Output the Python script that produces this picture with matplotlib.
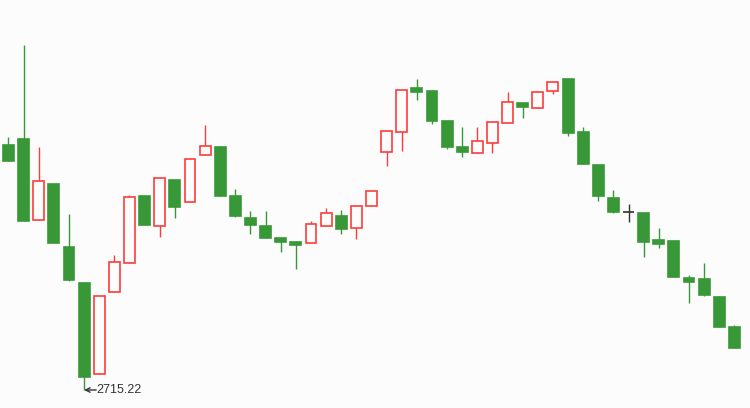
import numpy as np
import matplotlib
matplotlib.use("Agg")
import matplotlib.pyplot as plt

# daily OHLC values
opens = [2960.2, 2966.2, 2884.9, 2921.2, 2858.2, 2822.2, 2730.9, 2812.9, 2841.9, 2909.2,
         2878.9, 2925.2, 2902.9, 2949.9, 2958.2, 2909.2, 2887.2, 2879.2, 2867.2, 2863.2,
         2861.9, 2878.9, 2889.2, 2876.9, 2898.9, 2952.9, 2972.9, 3017.2, 3014.2, 2984.2,
         2958.2, 2951.9, 2961.9, 2981.9, 3002.2, 2996.9, 3013.9, 3026.2, 2973.2, 2940.2,
         2907.2, 2892.9, 2892.2, 2865.2, 2864.2, 2827.2, 2826.2, 2808.2, 2778.2]
highs = [2968.2, 3060.2, 2958.2, 2921.2, 2891.2, 2822.2, 2808.9, 2850.2, 2910.5, 2909.2,
         2928.2, 2925.2, 2945.9, 2980.2, 2959.5, 2916.2, 2894.2, 2894.2, 2867.2, 2864.2,
         2884.2, 2897.2, 2895.2, 2899.2, 2914.2, 2974.2, 3014.9, 3026.2, 3015.2, 2984.2,
         2978.2, 2978.2, 2983.2, 3013.2, 3002.2, 3012.9, 3022.9, 3026.2, 2978.2, 2940.2,
         2915.2, 2901.2, 2892.2, 2877.2, 2864.2, 2830.2, 2842.2, 2809.2, 2780.2]
lows = [2944.5, 2884.5, 2884.9, 2862.5, 2824.5, 2715.22, 2730.9, 2812.9, 2841.9, 2880.5,
        2868.5, 2887.5, 2902.9, 2949.9, 2909.5, 2888.5, 2871.5, 2867.5, 2853.5, 2836.2,
        2861.9, 2878.9, 2871.5, 2866.5, 2898.9, 2939.5, 2954.5, 3005.5, 2981.5, 2955.9,
        2948.5, 2951.9, 2952.5, 2981.9, 2987.5, 2996.9, 3011.5, 2969.5, 2941.5, 2904.5,
        2892.2, 2883.2, 2848.2, 2857.5, 2828.5, 2802.2, 2809.5, 2778.5, 2757.5]
closes = [2944.5, 2884.5, 2923.9, 2862.5, 2825.5, 2728.5, 2808.9, 2842.9, 2907.9, 2880.5,
          2926.9, 2898.5, 2945.9, 2958.9, 2909.5, 2889.5, 2880.5, 2867.5, 2863.5, 2860.5,
          2880.9, 2891.9, 2876.5, 2899.2, 2914.2, 2974.2, 3014.9, 3013.5, 2984.5, 2958.5,
          2953.5, 2964.2, 2983.2, 3002.9, 2998.5, 3012.9, 3022.9, 2972.5, 2941.5, 2909.5,
          2893.5, 2892.9, 2863.2, 2861.5, 2828.5, 2823.5, 2810.5, 2778.5, 2757.5]

up_color = "#ff3b3b"
down_color = "#389838"
flat_color = "#333333"
bg = "#fcfcfc"

fig = plt.figure(figsize=(7.5, 4.08), dpi=100, facecolor=bg)
ax = fig.add_axes([0, 0, 1, 1], facecolor=bg)

x = np.arange(len(opens))
o = np.array(opens)
h = np.array(highs)
l = np.array(lows)
c = np.array(closes)

colors = np.where(c > o, up_color, np.where(c < o, down_color, flat_color))
faces = np.where(c > o, bg, colors)

# wicks
ax.vlines(x, l, h, colors=colors, linewidth=1.0, zorder=1)

# bodies
bottom = np.minimum(o, c)
height = np.abs(c - o)
ax.bar(x, height, width=0.72, bottom=bottom, color=faces, edgecolor=colors,
       linewidth=1.2, zorder=2)

# lowest point label
i_min = int(np.argmin(l))
ax.annotate("", xy=(x[i_min], l[i_min]), xytext=(x[i_min] + 0.8, l[i_min]),
            arrowprops=dict(arrowstyle="->", color="#333333", lw=1.0,
                            shrinkA=0, shrinkB=0, mutation_scale=8), zorder=3)
ax.text(x[i_min] + 0.83, l[i_min], f"{l[i_min]:.2f}", color="#333333",
        fontsize=9, family=["Liberation Sans", "DejaVu Sans"],
        va="center", ha="left", zorder=3)

ax.set_xlim(-0.562, 49.03)
ax.set_ylim(2697.22, 3105.22)
ax.axis("off")

fig.savefig("out.png", dpi=100, facecolor=bg)
